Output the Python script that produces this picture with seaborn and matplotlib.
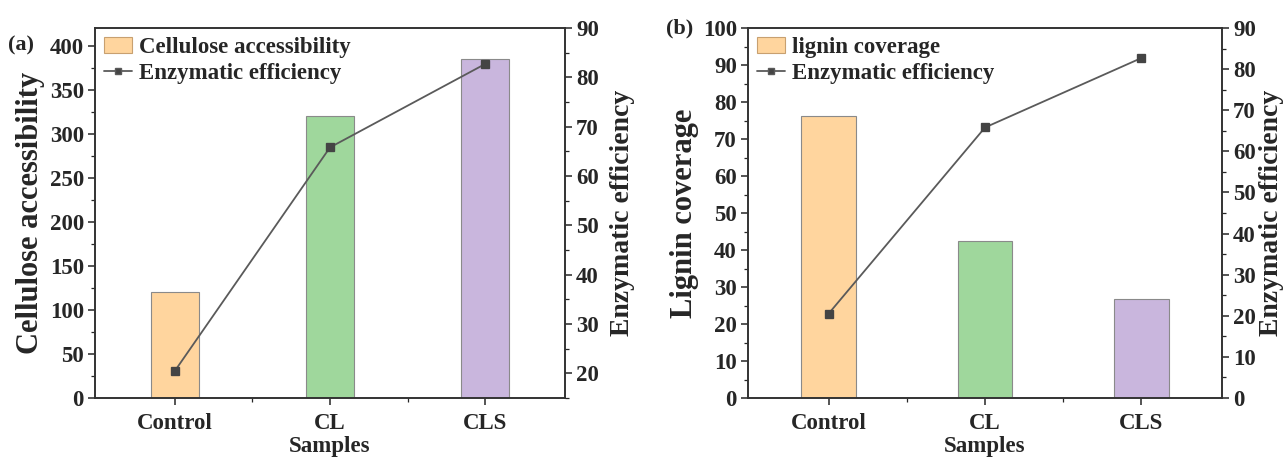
import matplotlib
matplotlib.use("Agg")
import pandas as pd
import matplotlib.pyplot as plt
import seaborn as sns
from matplotlib.ticker import MultipleLocator, FixedLocator
from matplotlib.patches import Patch
from matplotlib.lines import Line2D

samples = ["Control", "CL", "CLS"]
cellulose_access = [120, 320, 385]
lignin_cover = [76.3, 42.5, 26.8]
enzymatic_eff = [20.5, 65.8, 82.7]
bar_colors = ["#FFD59E", "#9FD79C", "#C9B6DD"]

sns.set_style("ticks")
plt.rcParams["font.family"] = ["Liberation Serif", "DejaVu Serif"]
plt.rcParams["font.weight"] = "bold"
plt.rcParams["axes.labelweight"] = "bold"

df = pd.DataFrame({"Samples": samples, "cell": cellulose_access,
                   "lig": lignin_cover, "eff": enzymatic_eff})

fig = plt.figure(figsize=(12.87, 4.62), dpi=100)
ax_a = fig.add_axes([95 / 1287, 64 / 462, 470 / 1287, 370 / 462])
ax_b = fig.add_axes([748 / 1287, 64 / 462, 474 / 1287, 370 / 462])


def panel(ax, col, ylab, ylim, ymajor, yminor, y2lim, width, leglabel, tag, tagpos, pad2):
    sns.barplot(data=df, x="Samples", y=col, hue="Samples", palette=bar_colors,
                saturation=1, width=width, edgecolor="#8a8a8a", linewidth=0.8,
                legend=False, ax=ax)
    ax.set_ylim(*ylim)
    ax.set_xlim(-0.515, 2.515)
    ax.yaxis.set_major_locator(MultipleLocator(ymajor))
    ax.yaxis.set_minor_locator(MultipleLocator(yminor))
    ax.xaxis.set_minor_locator(FixedLocator([0.5, 1.5]))
    ax.set_ylabel(ylab, fontsize=22, labelpad=3)
    ax.set_xlabel("Samples", fontsize=16.5, labelpad=1)

    ax2 = ax.twinx()
    sns.pointplot(data=df, x="Samples", y="eff", color="#5a5a5a", markers="s",
                  markersize=5.5, linewidth=1.3, ax=ax2)
    for ln in ax2.lines:
        ln.set_markerfacecolor("#444444")
        ln.set_markeredgecolor("#444444")
    ax2.set_xlim(-0.515, 2.515)
    ax2.set_ylim(*y2lim)
    ax2.yaxis.set_major_locator(MultipleLocator(10))
    ax2.yaxis.set_minor_locator(MultipleLocator(5))
    ax2.set_ylabel("Enzymatic efficiency", fontsize=20, labelpad=pad2)
    ax2.set_xlabel("")

    for a in (ax, ax2):
        for s in a.spines.values():
            s.set_linewidth(1.2)
            s.set_color("#333333")
        a.tick_params(axis="both", which="major", length=5, width=1.1,
                      labelsize=16.5, direction="out", pad=3)
        a.tick_params(axis="both", which="minor", length=3, width=0.9, direction="out")
        for lab in a.get_xticklabels() + a.get_yticklabels():
            lab.set_fontweight("bold")
    ax.tick_params(axis="x", pad=6)

    handles = [Patch(facecolor=bar_colors[0], edgecolor="#c8a070", linewidth=0.8),
               Line2D([], [], color="#5a5a5a", marker="s", markersize=4.5,
                      markerfacecolor="#444444", linewidth=1.3)]
    ax.legend(handles, [leglabel, "Enzymatic efficiency"], loc="upper left",
              frameon=False, handlelength=1.2, handletextpad=0.3,
              borderaxespad=0.0, labelspacing=0.2,
              prop={"family": ["Liberation Serif"], "weight": "bold", "size": 16.5})
    fig.text(tagpos[0] / 1287, 1 - tagpos[1] / 462, tag, fontsize=16,
             fontweight="bold", ha="left", va="center")
    return ax2


panel(ax_a, "cell", "Cellulose accessibility", (0, 420), 50, 25, (15, 90),
      0.31, "Cellulose accessibility", "(a)", (8, 45), 8)
panel(ax_b, "lig", "Lignin coverage", (0, 100), 10, 5, (0, 90),
      0.35, "lignin coverage", "(b)", (666, 28), 2)

fig.savefig("out.png", dpi=100)
